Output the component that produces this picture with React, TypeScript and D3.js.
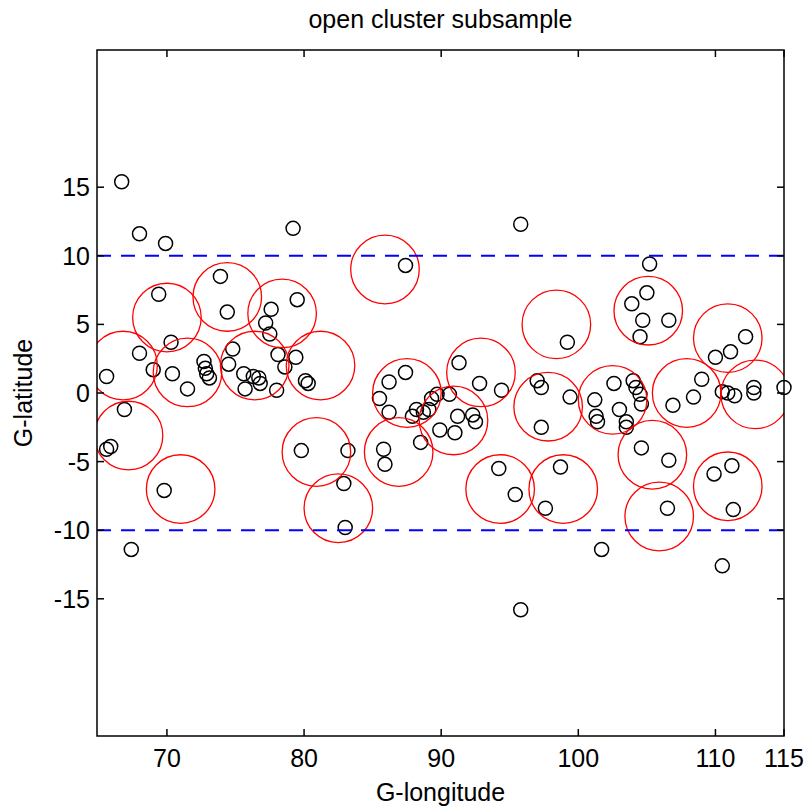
import React from 'react';
import * as d3 from 'd3';

// open clusters (galactic longitude / latitude, degrees)
const clusterLon = [
  66.7, 68.0, 69.9, 79.2, 73.9, 69.4, 79.5, 74.4, 77.6, 77.2,
  77.5, 70.3, 68.0, 74.8, 74.5, 78.1, 79.4, 78.6, 69.0, 70.4,
  65.6, 72.7, 72.8, 72.9, 73.1, 75.6, 76.3, 76.7, 80.1, 80.3,
  71.5, 75.7, 76.8, 78.0, 66.9, 65.6, 65.9, 69.8, 79.8, 83.2,
  82.9, 83.0, 67.4, 95.8, 87.4, 99.2, 91.3, 87.4, 86.2, 92.8,
  94.4, 97.0, 97.3, 99.4, 85.5, 86.2, 87.9, 88.2, 88.7, 89.1,
  89.3, 89.7, 90.6, 91.2, 92.3, 92.5, 89.9, 91.0, 88.5, 97.3,
  85.8, 85.9, 94.2, 98.7, 95.4, 97.6, 95.8, 105.2, 105.0, 103.9,
  104.7, 106.6, 104.5, 112.2, 111.1, 110.0, 109.0, 102.6, 104.0, 104.2,
  104.5, 104.6, 101.2, 108.4, 110.5, 110.9, 111.4, 112.8, 112.8, 115.0,
  101.3, 101.4, 103.0, 103.5, 103.5, 106.9, 104.6, 106.6, 109.9, 111.2,
  111.3, 106.5, 101.7, 110.5,
];
const clusterLat = [
  15.4, 11.6, 10.9, 12.0, 8.5, 7.2, 6.8, 5.9, 6.1, 5.1,
  4.3, 3.7, 2.9, 3.2, 2.1, 2.8, 2.6, 1.9, 1.7, 1.4,
  1.2, 2.3, 1.8, 1.4, 1.1, 1.4, 1.2, 1.1, 0.9, 0.7,
  0.3, 0.3, 0.7, 0.2, -1.2, -4.1, -3.9, -7.1, -4.2, -4.2,
  -6.6, -9.8, -11.4, 12.3, 9.3, 3.7, 2.2, 1.5, 0.8, 0.7,
  0.2, 0.9, 0.4, -0.3, -0.4, -1.4, -1.7, -1.2, -1.4, -1.2,
  -0.4, -0.1, -0.1, -1.7, -1.6, -2.1, -2.7, -2.9, -3.6, -2.5,
  -4.1, -5.2, -5.5, -5.4, -7.4, -8.4, -15.8, 9.4, 7.3, 6.5,
  5.3, 5.3, 4.1, 4.1, 3.0, 2.6, 1.0, 0.7, 0.9, 0.4,
  -0.1, -0.8, -0.5, -0.3, 0.1, 0.0, -0.2, 0.4, 0.0, 0.4,
  -1.7, -2.1, -1.2, -2.1, -2.5, -0.9, -4.0, -4.9, -5.9, -5.3,
  -8.5, -8.4, -11.4, -12.6,
];

// subsample fields (circle centres)
const fieldLon = [
  85.9, 70.0, 74.4, 78.4, 66.8, 71.5, 76.4, 81.2, 67.2, 71.0,
  80.9, 82.5, 87.5, 92.9, 86.9, 90.9, 98.4, 97.8, 94.3, 98.9,
  105.1, 110.9, 102.5, 107.9, 112.9, 105.4, 105.9, 110.9,
];
const fieldLat = [
  9.0, 5.5, 7.0, 5.8, 2.0, 1.5, 2.0, 2.0, -3.1, -7.0,
  -4.3, -8.4, 0.0, 1.5, -4.3, -2.0, 5.0, -1.0, -7.0, -7.0,
  6.0, 4.0, -0.5, 0.0, -0.1, -4.5, -9.0, -6.8,
];
const fieldRadius = 2.5;

const bandLats = [10, -10];
const xTicks = [70, 80, 90, 100, 110, 115];
const yTicks = [-15, -10, -5, 0, 5, 10, 15];

const W = 806;
const H = 808;
const left = 97, right = 784, top = 50, bottom = 736;
const font = '"Liberation Sans", Arial, sans-serif';

export default function App() {
  const x = d3.scaleLinear().domain([64.9, 115]).range([left, right]);
  const y = d3.scaleLinear().domain([-25, 25]).range([bottom, top]);
  const rx = x(fieldRadius) - x(0);
  const ry = y(0) - y(fieldRadius);
  const tick = 7;

  return (
    <div style={{ position: 'absolute', left: 0, top: 0 }}>
      <svg width={W} height={H} style={{ display: 'block', background: '#fff' }}>
        <defs>
          <clipPath id="plot">
            <rect x={left} y={top} width={right - left} height={bottom - top} />
          </clipPath>
        </defs>

        {/* clusters */}
        <g fill="none" stroke="#000" strokeWidth={1.5}>
          {clusterLon.map((lon, i) => (
            <circle key={i} cx={x(lon)} cy={y(clusterLat[i])} r={7} />
          ))}
        </g>

        {/* fields */}
        <g clipPath="url(#plot)" fill="none" stroke="#ff0000" strokeWidth={1.3}>
          {fieldLon.map((lon, i) => (
            <ellipse key={i} cx={x(lon)} cy={y(fieldLat[i])} rx={rx} ry={ry} />
          ))}
        </g>

        {/* |b| = 10 band */}
        <g clipPath="url(#plot)" stroke="#0000ff" strokeWidth={2} strokeDasharray="14,10">
          {bandLats.map(b => (
            <line key={b} x1={left} x2={right} y1={y(b)} y2={y(b)} />
          ))}
        </g>

        {/* axes box + ticks */}
        <g stroke="#000" strokeWidth={1.5} fill="none">
          <rect x={left} y={top} width={right - left} height={bottom - top} />
          {xTicks.map(t => (
            <g key={t}>
              <line x1={x(t)} x2={x(t)} y1={bottom} y2={bottom - tick} />
              <line x1={x(t)} x2={x(t)} y1={top} y2={top + tick} />
            </g>
          ))}
          {yTicks.map(t => (
            <g key={t}>
              <line x1={left} x2={left + tick} y1={y(t)} y2={y(t)} />
              <line x1={right} x2={right - tick} y1={y(t)} y2={y(t)} />
            </g>
          ))}
        </g>

        <g fontFamily={font} fontSize={25} fill="#000">
          {xTicks.map(t => (
            <text key={t} x={x(t)} y={767} textAnchor="middle">{t}</text>
          ))}
          {yTicks.map(t => (
            <text key={t} x={90} y={y(t) + 9} textAnchor="end">{t}</text>
          ))}
          <text x={(left + right) / 2} y={28} textAnchor="middle">open cluster subsample</text>
          <text x={(left + right) / 2} y={801} textAnchor="middle">G-longitude</text>
          <text transform={`translate(32,${(top + bottom) / 2}) rotate(-90)`} textAnchor="middle">G-latitude</text>
        </g>
      </svg>
    </div>
  );
}
